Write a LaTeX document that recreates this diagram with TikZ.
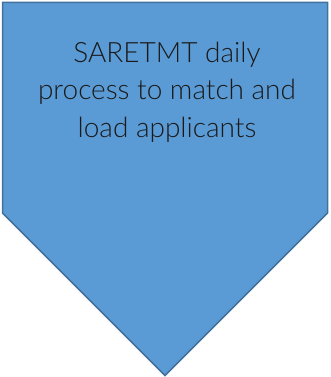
\documentclass[tikz,border=0pt]{standalone}
\usepackage{fontspec}
\setmainfont{Lato}[UprightFont=* Light]
\definecolor{fillblue}{HTML}{5B9BD5}
\definecolor{edgeblue}{HTML}{41719C}
\definecolor{txt}{HTML}{1A1A1A}
\tikzset{lbl/.style={anchor=base,font=\fontsize{28}{34}\selectfont,text=txt,inner sep=0pt}}
\begin{document}
\begin{tikzpicture}[x=1pt,y=1pt]
\useasboundingbox (0,0) rectangle (330,377);
\draw[fill=fillblue,draw=edgeblue,line width=1.5pt,line join=miter]
  (2.5,374.5) -- (327.5,374.5) -- (327.5,164) -- (165,1.5) -- (2.5,164) -- cycle;
\node[lbl] (l1) at (167,314) {SARETMT daily};
\node[lbl] (l2) at (167,277) {process to match and};
\node[lbl] (l3) at (167,239) {load applicants};
\end{tikzpicture}
\end{document}
